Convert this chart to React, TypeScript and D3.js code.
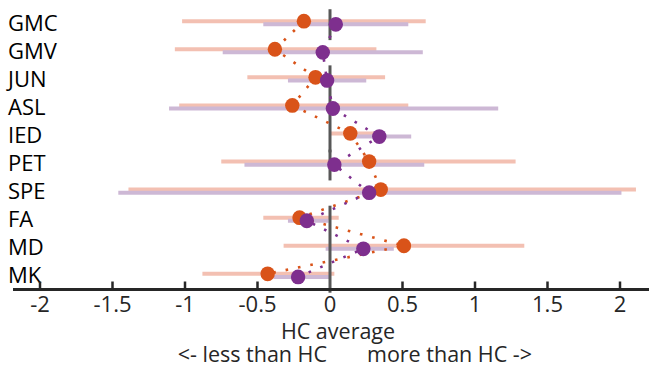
import React, { useEffect, useRef } from "react";
import * as d3 from "d3";

const categories = ["GMC", "GMV", "JUN", "ASL", "IED", "PET", "SPE", "FA", "MD", "MK"];

const orangeMean = [-0.18, -0.38, -0.1, -0.26, 0.14, 0.27, 0.35, -0.21, 0.51, -0.43];
const orangeLow = [-1.02, -1.07, -0.57, -1.04, 0.0, -0.75, -1.39, -0.46, -0.32, -0.88];
const orangeHigh = [0.66, 0.32, 0.38, 0.54, 0.32, 1.28, 2.11, 0.06, 1.34, 0.03];

const purpleMean = [0.04, -0.05, -0.02, 0.02, 0.34, 0.03, 0.27, -0.16, 0.23, -0.22];
const purpleLow = [-0.46, -0.74, -0.29, -1.11, 0.15, -0.59, -1.46, -0.29, -0.03, -0.39];
const purpleHigh = [0.54, 0.64, 0.25, 1.16, 0.56, 0.65, 2.01, -0.01, 0.44, 0.0];

const xTicks = [-2, -1.5, -1, -0.5, 0, 0.5, 1, 1.5, 2];

// rows where the zero reference line is visible
const zeroSegments: [string, string][] = [
  ["GMC", "GMC"],
  ["JUN", "IED"],
  ["PET", "PET"],
  ["FA", "MK"],
];

const font = "'Open Sans', sans-serif";

export default function App() {
  const ref = useRef<SVGSVGElement>(null);

  useEffect(() => {
    const width = 649, height = 370;
    const svg = d3.select(ref.current);
    svg.selectAll("*").remove();
    svg.attr("width", width).attr("height", height);

    const x = d3.scaleLinear().domain([-2.2, 2.2]).range([11, 649]);
    const y = d3.scalePoint<string>().domain(categories).range([22.7, 275.3]);
    const step = y.step();
    const axisY = 289.5;

    const series = [
      { mean: orangeMean, low: orangeLow, high: orangeHigh, color: "#D95319", bar: "#F3C0B2", dy: -1.5 },
      { mean: purpleMean, low: purpleLow, high: purpleHigh, color: "#7E2F8E", bar: "#CDB8D5", dy: 1.6 },
    ];

    // interval bars
    series.forEach(s => {
      svg.append("g")
        .selectAll("line")
        .data(categories)
        .enter()
        .append("line")
        .attr("x1", (_, i) => x(s.low[i]))
        .attr("x2", (_, i) => x(s.high[i]))
        .attr("y1", d => (y(d) as number) + s.dy)
        .attr("y2", d => (y(d) as number) + s.dy)
        .attr("stroke", s.bar)
        .attr("stroke-width", 4);
    });

    // zero reference
    svg.append("g")
      .selectAll("line")
      .data(zeroSegments)
      .enter()
      .append("line")
      .attr("x1", x(0))
      .attr("x2", x(0))
      .attr("y1", d => (y(d[0]) as number) - 0.48 * step)
      .attr("y2", d => (y(d[1]) as number) + 0.62 * step)
      .attr("stroke", "#575757")
      .attr("stroke-width", 3);

    // dotted connectors
    series.forEach(s => {
      const line = d3.line<string>()
        .x((_, i) => x(s.mean[i]))
        .y(d => (y(d) as number) + s.dy);
      svg.append("path")
        .attr("d", line(categories))
        .attr("fill", "none")
        .attr("stroke", s.color)
        .attr("stroke-width", 2.6)
        .attr("stroke-dasharray", "2.6 10");
    });

    // means
    series.forEach(s => {
      svg.append("g")
        .selectAll("ellipse")
        .data(categories)
        .enter()
        .append("ellipse")
        .attr("cx", (_, i) => x(s.mean[i]))
        .attr("cy", d => (y(d) as number) + s.dy)
        .attr("rx", 7.2)
        .attr("ry", 7.4)
        .attr("fill", s.color);
    });

    // category labels
    svg.append("g")
      .selectAll("text")
      .data(categories)
      .enter()
      .append("text")
      .attr("x", 8)
      .attr("y", d => y(d) as number)
      .attr("dy", "0.36em")
      .attr("font-family", font)
      .attr("font-size", 22)
      .attr("fill", "#000")
      .text(d => d);

    // x axis
    svg.append("line")
      .attr("x1", 13).attr("x2", width)
      .attr("y1", axisY).attr("y2", axisY)
      .attr("stroke", "#262626")
      .attr("stroke-width", 3);

    svg.append("g")
      .selectAll("line")
      .data(xTicks.filter(t => t !== 0))
      .enter()
      .append("line")
      .attr("x1", d => x(d)).attr("x2", d => x(d))
      .attr("y1", axisY).attr("y2", axisY - 8)
      .attr("stroke", "#262626")
      .attr("stroke-width", 2.5);

    svg.append("g")
      .selectAll("text")
      .data(xTicks)
      .enter()
      .append("text")
      .attr("x", d => x(d))
      .attr("y", 312)
      .attr("text-anchor", "middle")
      .attr("font-family", font)
      .attr("font-size", 22)
      .attr("fill", "#262626")
      .text(d => String(d));

    svg.append("text")
      .attr("x", 338).attr("y", 339)
      .attr("text-anchor", "middle")
      .attr("font-family", font)
      .attr("font-size", 21.5)
      .attr("fill", "#262626")
      .text("HC average");

    svg.append("text")
      .attr("x", 327).attr("y", 362)
      .attr("text-anchor", "end")
      .attr("font-family", font)
      .attr("font-size", 21.5)
      .attr("fill", "#262626")
      .text("<- less than HC");

    svg.append("text")
      .attr("x", 367).attr("y", 362)
      .attr("text-anchor", "start")
      .attr("font-family", font)
      .attr("font-size", 21.5)
      .attr("fill", "#262626")
      .text("more than HC ->");
  }, []);

  return (
    <svg ref={ref} style={{ position: "absolute", left: 0, top: 0 }}></svg>
  );
}
